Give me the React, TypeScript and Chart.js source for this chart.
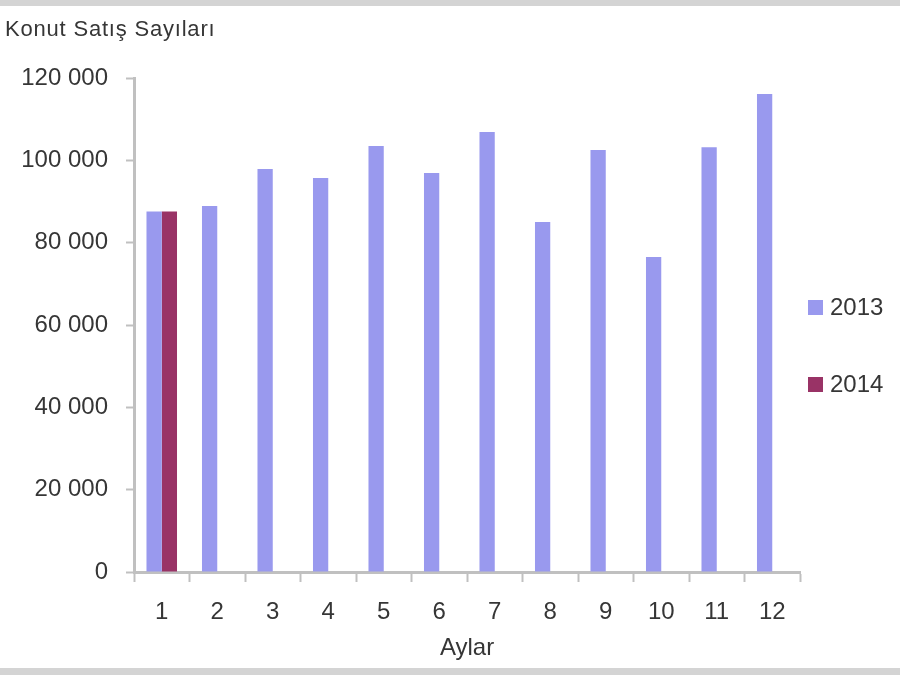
import { useEffect, useRef } from "react";
import { Chart, registerables } from "chart.js";

Chart.register(...registerables);

const months = ["1", "2", "3", "4", "5", "6", "7", "8", "9", "10", "11", "12"];
const sales2013 = [87600, 88900, 97900, 95700, 103500, 96900, 106900, 85000, 102500, 76500, 103200, 116100];
const sales2014 = [87600, null, null, null, null, null, null, null, null, null, null, null];
const seriesNames = ["2013", "2014"];
const seriesColors = ["#9999ee", "#993366"];
const yTicks = [0, 20000, 40000, 60000, 80000, 100000, 120000];

const FONT = "'Liberation Sans', Arial, sans-serif";
const TEXT = "#363636";
const AXIS = "#c0c0c0";

const formatTick = (v: number) => (v === 0 ? "0" : `${Math.round(v / 1000)} 000`);

const App = () => {
  const canvasRef = useRef<HTMLCanvasElement | null>(null);
  const chartRef = useRef<Chart | null>(null);

  useEffect(() => {
    if (!canvasRef.current) return;
    if (chartRef.current) chartRef.current.destroy();

    chartRef.current = new Chart(canvasRef.current, {
      type: "bar",
      data: {
        labels: months,
        datasets: [
          { label: seriesNames[0], data: sales2013, backgroundColor: seriesColors[0] },
          { label: seriesNames[1], data: sales2014, backgroundColor: seriesColors[1] },
        ],
      },
      options: {
        responsive: false,
        animation: false,
        layout: { padding: { top: 78, right: 100, left: 0, bottom: 0 } },
        datasets: { bar: { categoryPercentage: 0.55, barPercentage: 1.0 } },
        scales: {
          x: {
            grid: {
              offset: true,
              drawOnChartArea: false,
              drawTicks: true,
              tickLength: 10,
              tickColor: AXIS,
              tickWidth: 2,
            },
            border: { color: AXIS, width: 3 },
            ticks: { color: TEXT, font: { family: FONT, size: 24 }, padding: 16 },
            title: {
              display: true,
              text: "Aylar",
              color: TEXT,
              font: { family: FONT, size: 24 },
              padding: { top: 4, bottom: 12 },
            },
            afterFit: (scale) => {
              scale.height = 103;
            },
          },
          y: {
            min: 0,
            max: 120000,
            afterBuildTicks: (scale) => {
              scale.ticks = yTicks.map((value) => ({ value }));
            },
            grid: {
              drawOnChartArea: false,
              drawTicks: true,
              tickLength: 8,
              tickColor: AXIS,
              tickWidth: 2,
            },
            border: { color: AXIS, width: 3 },
            ticks: {
              color: TEXT,
              font: { family: FONT, size: 24 },
              padding: 18,
              callback: (value) => formatTick(Number(value)),
            },
            afterFit: (scale) => {
              scale.width = 134;
            },
          },
        },
        plugins: {
          legend: { display: false },
          tooltip: { enabled: false },
        },
      },
    });

    return () => {
      if (chartRef.current) {
        chartRef.current.destroy();
        chartRef.current = null;
      }
    };
  }, []);

  return (
    <div
      style={{
        position: "absolute",
        top: 0,
        left: 0,
        width: 900,
        height: 675,
        background: "#ffffff",
        overflow: "hidden",
        fontFamily: FONT,
      }}
    >
      <canvas ref={canvasRef} width={900} height={675} style={{ position: "absolute", left: 0, top: 0 }} />
      <div style={{ position: "absolute", left: 0, top: 0, width: 900, height: 6, background: "#d4d4d4" }} />
      <div style={{ position: "absolute", left: 0, top: 668, width: 900, height: 7, background: "#d4d4d4" }} />
      <div
        style={{
          position: "absolute",
          left: 5,
          top: 16,
          fontSize: 22,
          letterSpacing: 0.8,
          color: TEXT,
          whiteSpace: "nowrap",
        }}
      >
        Konut Satış Sayıları
      </div>
      {seriesNames.map((name, i) => (
        <div
          key={name}
          style={{
            position: "absolute",
            left: 808,
            top: i === 0 ? 292 : 369,
            height: 30,
            display: "flex",
            alignItems: "center",
            fontSize: 24,
            color: TEXT,
          }}
        >
          <span style={{ width: 15, height: 15, background: seriesColors[i], marginRight: 7 }} />
          {name}
        </div>
      ))}
    </div>
  );
};

export default App;
